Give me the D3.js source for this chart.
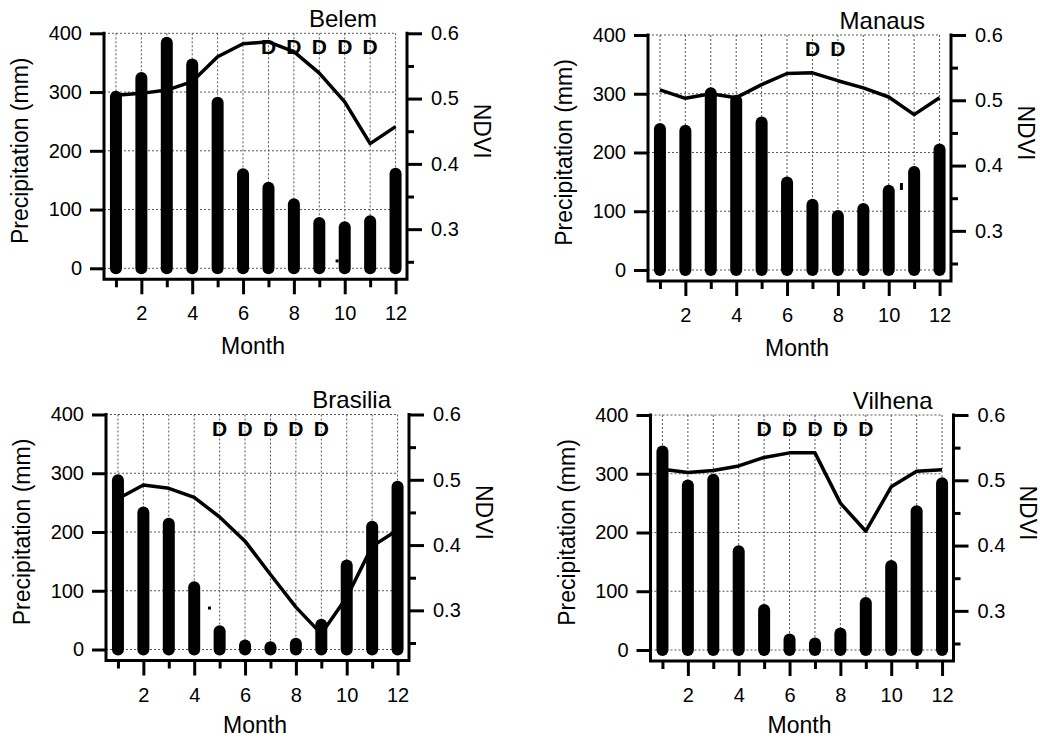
<!DOCTYPE html>
<html>
<head>
<meta charset="utf-8">
<script src="https://cdn.jsdelivr.net/npm/d3@7"></script>
<style>
  body { margin: 0; background: #fff; }
  svg { display: block; font-family: "Liberation Sans", Arial, Helvetica, sans-serif; }
</style>
</head>
<body>
<div id="chart"></div>
<script>
var svgWidth = 1040;
var svgHeight = 739;

// data
var months = [1, 2, 3, 4, 5, 6, 7, 8, 9, 10, 11, 12];
var sites = ["Belem", "Manaus", "Brasilia", "Vilhena"];

var precipBelem    = [292, 324, 384, 347, 282, 160, 137, 109, 77, 70, 80, 161];
var precipManaus   = [240, 237, 301, 288, 251, 149, 111, 92, 104, 135, 167, 205];
var precipBrasilia = [288, 233, 214, 106, 31, 7, 4, 10, 42, 143, 209, 277];
var precipVilhena  = [338, 280, 290, 168, 68, 18, 11, 28, 80, 143, 236, 284];

var ndviBelem    = [0.505, 0.508, 0.513, 0.526, 0.564, 0.584, 0.587, 0.572, 0.539, 0.495, 0.431, 0.457];
var ndviManaus   = [0.516, 0.503, 0.510, 0.504, 0.524, 0.541, 0.542, 0.530, 0.519, 0.505, 0.478, 0.504];
var ndviBrasilia = [0.471, 0.492, 0.487, 0.473, 0.443, 0.406, 0.355, 0.305, 0.264, 0.320, 0.398, 0.423];
var ndviVilhena  = [0.517, 0.512, 0.515, 0.522, 0.535, 0.542, 0.542, 0.465, 0.422, 0.490, 0.514, 0.516];

// months flagged "D" (dry)
var dryBelem    = [7, 8, 9, 10, 11];
var dryManaus   = [7, 8];
var dryBrasilia = [5, 6, 7, 8, 9];
var dryVilhena  = [5, 6, 7, 8, 9];

// stray specks in the original figure: [month, mm]
var specksBelem    = [[9.7, 10]];
var specksManaus   = [[10.5, 143]];
var specksBrasilia = [[4.6, 68]];
var specksVilhena  = [];

var precipTicks = [0, 100, 200, 300, 400];
var ndviTicks = [0.3, 0.4, 0.5, 0.6];
var ndviMinorTicks = [0.25, 0.35, 0.45, 0.55];
var monthTicks = [2, 4, 6, 8, 10, 12];
var monthMinorTicks = [1, 3, 5, 7, 9, 11];

var panels = [
    {name: sites[0], precip: precipBelem, ndvi: ndviBelem, dry: dryBelem, specks: specksBelem},
    {name: sites[1], precip: precipManaus, ndvi: ndviManaus, dry: dryManaus, specks: specksManaus},
    {name: sites[2], precip: precipBrasilia, ndvi: ndviBrasilia, dry: dryBrasilia, specks: specksBrasilia},
    {name: sites[3], precip: precipVilhena, ndvi: ndviVilhena, dry: dryVilhena, specks: specksVilhena}
];

// layout for each panel (left spine x, top of plot y, title right edge offset, Month label offset)
var layout = [
    {left: 104, top: 33.3, titleDx: -30, monthDy: 75},
    {left: 648, top: 35, titleDx: -26, monthDy: 75},
    {left: 106, top: 414.5, titleDx: -18, monthDy: 72},
    {left: 650.5, top: 415, titleDx: -21, monthDy: 72}
];

var plotW = 303;
var plotH = 246;

var svg = d3.select("#chart").append("svg")
    .attr("width", svgWidth)
    .attr("height", svgHeight);

panels.forEach(function(p, i) {
    var lay = layout[i];
    var g = svg.append("g")
        .attr("transform", `translate(${lay.left}, ${lay.top})`);

    var x = d3.scaleLinear().domain([0.53, 12.45]).range([0, plotW]);
    var yL = d3.scaleLinear().domain([0, 400]).range([235, 0]);
    var yR = d3.scaleLinear().domain([0.25, 0.6]).range([228.5, 0]);

    // dashed grid
    var grid = g.append("g")
        .attr("stroke", "#555")
        .attr("stroke-width", 1)
        .attr("stroke-dasharray", "2,2");
    grid.selectAll(".hgrid").data(precipTicks).enter().append("line")
        .attr("x1", 0).attr("x2", x(12))
        .attr("y1", d => yL(d)).attr("y2", d => yL(d));
    grid.selectAll(".vgrid").data(months).enter().append("line")
        .attr("x1", d => x(d)).attr("x2", d => x(d))
        .attr("y1", yL(400)).attr("y2", yL(0));

    // precipitation bars
    g.selectAll(".bar").data(p.precip).enter().append("line")
        .attr("x1", (d, j) => x(months[j])).attr("x2", (d, j) => x(months[j]))
        .attr("y1", yL(0)).attr("y2", d => yL(d))
        .attr("stroke", "#000")
        .attr("stroke-width", 12)
        .attr("stroke-linecap", "round");

    // specks
    g.selectAll(".speck").data(p.specks).enter().append("rect")
        .attr("x", d => x(d[0]) - 1.5)
        .attr("y", d => yL(d[1]) - 3)
        .attr("width", 3)
        .attr("height", i == 1 ? 7 : 3)
        .attr("fill", "#000");

    // NDVI line
    var line = d3.line()
        .x((d, j) => x(months[j]))
        .y(d => yR(d));
    g.append("path")
        .datum(p.ndvi)
        .attr("d", line)
        .attr("fill", "none")
        .attr("stroke", "#000")
        .attr("stroke-width", 3.5)
        .attr("stroke-linejoin", "round");

    // D markers
    g.selectAll(".dry").data(p.dry).enter().append("text")
        .attr("x", d => x(d))
        .attr("y", 21)
        .attr("text-anchor", "middle")
        .attr("font-size", 21)
        .attr("font-weight", "bold")
        .attr("fill", "#000")
        .text("D");

    // axes
    var leftAxis = d3.axisLeft(yL).tickValues(precipTicks).tickSize(14).tickPadding(8);
    var rightAxis = d3.axisRight(yR).tickValues(ndviTicks).tickSize(15).tickPadding(9).tickFormat(d3.format(".1f"));
    var rightMinor = d3.axisRight(yR).tickValues(ndviMinorTicks).tickSize(7).tickFormat("");
    var bottomAxis = d3.axisBottom(x).tickValues(monthTicks).tickSize(15).tickPadding(12);
    var bottomMinor = d3.axisBottom(x).tickValues(monthMinorTicks).tickSize(8).tickFormat("");

    function styleAxis(sel) {
        sel.select(".domain").remove();
        sel.selectAll("line").attr("stroke", "#000").attr("stroke-width", 3);
        sel.selectAll("text").attr("fill", "#000");
        sel.attr("font-size", 20).attr("font-family", null);
    }

    g.append("g").call(leftAxis).call(styleAxis);
    g.append("g").attr("transform", `translate(${plotW}, 0)`).call(rightAxis).call(styleAxis);
    g.append("g").attr("transform", `translate(${plotW}, 0)`).call(rightMinor).call(styleAxis);
    g.append("g").attr("transform", `translate(0, ${plotH})`).call(bottomAxis).call(styleAxis);
    g.append("g").attr("transform", `translate(0, ${plotH})`).call(bottomMinor).call(styleAxis);

    // spines
    g.append("path")
        .attr("d", `M0,0V${plotH}H${plotW}V0`)
        .attr("fill", "none")
        .attr("stroke", "#000")
        .attr("stroke-width", 3)
        .attr("stroke-linecap", "square");

    // labels
    g.append("text")
        .attr("x", plotW + lay.titleDx)
        .attr("y", -6.5)
        .attr("text-anchor", "end")
        .attr("font-size", 24)
        .text(p.name);

    g.append("text")
        .attr("transform", `translate(-84, ${yL(200)}) rotate(-90)`)
        .attr("text-anchor", "middle")
        .attr("dy", "0.35em")
        .attr("font-size", 23)
        .text("Precipitation (mm)");

    g.append("text")
        .attr("transform", `translate(${plotW + 75}, ${yR(0.45)}) rotate(90)`)
        .attr("text-anchor", "middle")
        .attr("dy", "0.35em")
        .attr("font-size", 23)
        .text("NDVI");

    g.append("text")
        .attr("x", 149)
        .attr("y", plotH + lay.monthDy)
        .attr("text-anchor", "middle")
        .attr("font-size", 23)
        .text("Month");
});
</script>
</body>
</html>
